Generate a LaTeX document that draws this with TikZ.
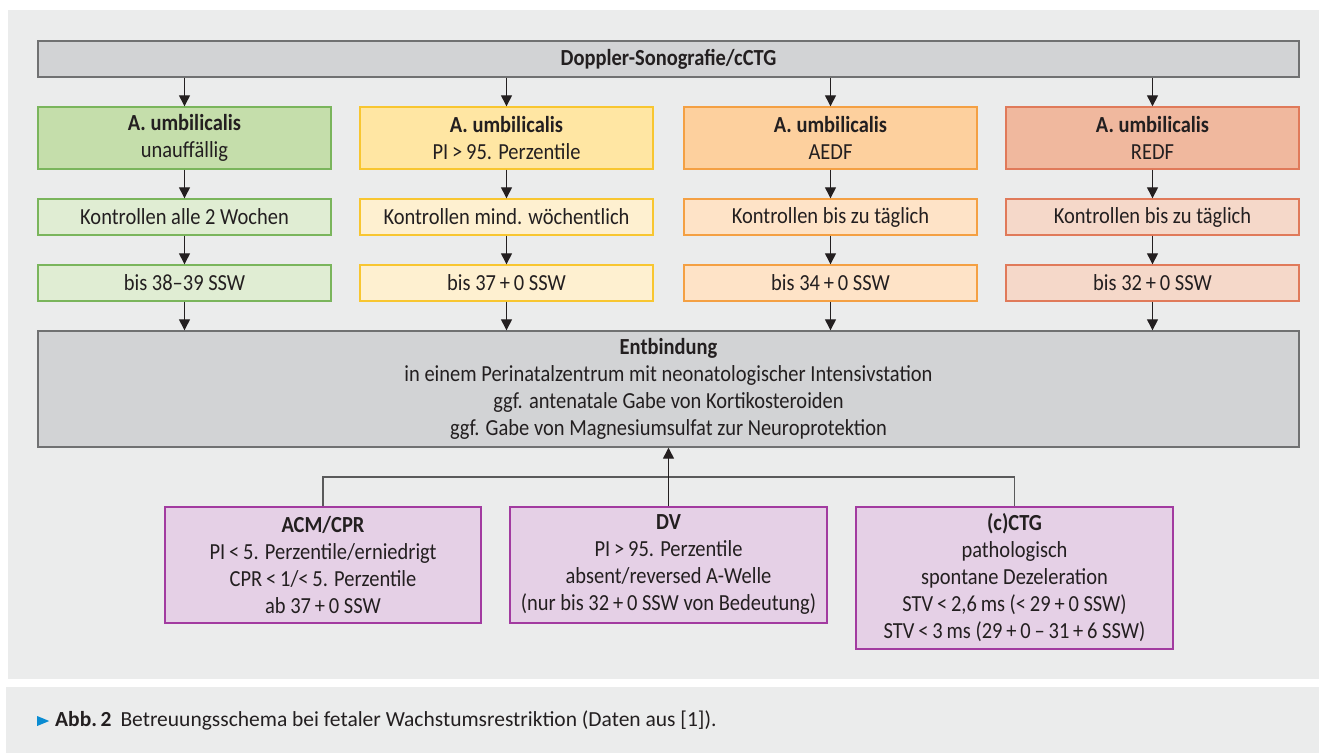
\documentclass[tikz,border=0pt]{standalone}
\usepackage{fontspec}
\setmainfont{Carlito}[FakeStretch=0.89]
\newfontfamily\capfont{Carlito}
\usetikzlibrary{arrows.meta,shapes.geometric}
\definecolor{panelbg}{HTML}{EBECEC}
\definecolor{boxgray}{HTML}{D2D3D5}
\definecolor{bordgray}{HTML}{707172}
\definecolor{gdark}{HTML}{C5DEAB}
\definecolor{glight}{HTML}{E0EDD3}
\definecolor{gbord}{HTML}{7AB55C}
\definecolor{ydark}{HTML}{FFE6A3}
\definecolor{ylight}{HTML}{FEF0D0}
\definecolor{ybord}{HTML}{F8C630}
\definecolor{odark}{HTML}{FDD09E}
\definecolor{olight}{HTML}{FEE3C7}
\definecolor{obord}{HTML}{F4A043}
\definecolor{rdark}{HTML}{F0B89E}
\definecolor{rlight}{HTML}{F5D8C9}
\definecolor{rbord}{HTML}{E07A5A}
\definecolor{pfill}{HTML}{E5D0E6}
\definecolor{pbord}{HTML}{A23BA0}
\definecolor{arrcol}{HTML}{231F20}
\definecolor{capblue}{HTML}{0A8CD2}
\tikzset{
  every node/.style={font=\fontsize{23}{27}\selectfont, text=arrcol},
  box/.style={draw, line width=1.4pt, align=center, inner sep=0pt, minimum width=293pt},
  widebox/.style={box, fill=boxgray, draw=bordgray, minimum width=1261pt},
  pbox/.style={box, fill=pfill, draw=pbord, minimum width=316pt},
  arr/.style={-{Triangle[width=11pt,length=11pt]}, line width=1.3pt, draw=arrcol},
  conn/.style={line width=1.3pt, draw=bordgray!80!black}
}
\begin{document}
\begin{tikzpicture}[x=1pt,y=-1pt]
\useasboundingbox (0,0) rectangle (1319,753);
\fill[white] (0,0) rectangle (1319,753);
\fill[panelbg] (8,10) rectangle (1319,679);
\fill[panelbg] (6,687) rectangle (1319,753);

\node[widebox, minimum height=36pt] (top) at (668.5,59) {\textbf{Doppler-Sonografie/cCTG}};

\node[box, fill=gdark, draw=gbord, minimum height=62pt] (g1) at (184.5,138) {\textbf{A. umbilicalis}\\unauffällig};
\node[box, fill=ydark, draw=ybord, minimum height=62pt] (y1) at (506.5,138) {\textbf{A. umbilicalis}\\PI\,>\,95. Perzentile};
\node[box, fill=odark, draw=obord, minimum height=62pt] (o1) at (830.5,138) {\textbf{A. umbilicalis}\\AEDF};
\node[box, fill=rdark, draw=rbord, minimum height=62pt] (r1) at (1152.5,138) {\textbf{A. umbilicalis}\\REDF};

\node[box, fill=glight, draw=gbord, minimum height=36pt] (g2) at (184.5,217) {Kontrollen alle 2 Wochen};
\node[box, fill=ylight, draw=ybord, minimum height=36pt] (y2) at (506.5,217) {Kontrollen mind. wöchentlich};
\node[box, fill=olight, draw=obord, minimum height=36pt] (o2) at (830.5,217) {Kontrollen bis zu täglich};
\node[box, fill=rlight, draw=rbord, minimum height=36pt] (r2) at (1152.5,217) {Kontrollen bis zu täglich};

\node[box, fill=glight, draw=gbord, minimum height=36pt] (g3) at (184.5,283) {bis 38–39 SSW};
\node[box, fill=ylight, draw=ybord, minimum height=36pt] (y3) at (506.5,283) {bis 37\,+\,0 SSW};
\node[box, fill=olight, draw=obord, minimum height=36pt] (o3) at (830.5,283) {bis 34\,+\,0 SSW};
\node[box, fill=rlight, draw=rbord, minimum height=36pt] (r3) at (1152.5,283) {bis 32\,+\,0 SSW};

\node[widebox, minimum height=116pt] (ent) at (668.5,389) {\textbf{Entbindung}\\in einem Perinatalzentrum mit neonatologischer Intensivstation\\ggf. antenatale Gabe von Kortikosteroiden\\ggf. Gabe von Magnesiumsulfat zur Neuroprotektion};

\node[pbox, minimum height=116pt] (acm) at (323,565) {\textbf{ACM/CPR}\\PI\,<\,5. Perzentile/erniedrigt\\CPR\,<\,1/<\,5. Perzentile\\ab 37\,+\,0 SSW};
\node[pbox, minimum height=116pt, minimum width=317pt] (dv) at (668.5,565) {\textbf{DV}\\PI\,>\,95. Perzentile\\absent/reversed A-Welle\\(nur bis 32\,+\,0 SSW von Bedeutung)};
\node[pbox, minimum height=142pt, minimum width=317pt] (ctg) at (1014.5,578) {\textbf{(c)CTG}\\pathologisch\\spontane Dezeleration\\STV\,<\,2,6\,ms (<\,29\,+\,0 SSW)\\STV\,<\,3\,ms (29\,+\,0\,–\,31\,+\,6 SSW)};

\foreach \c in {g,y,o,r}{
  \draw[arr] (\c1.north |- top.south) -- (\c1.north);
  \draw[arr] (\c1.south) -- (\c2.north);
  \draw[arr] (\c2.south) -- (\c3.north);
  \draw[arr] (\c3.south) -- (\c3.south |- ent.north);
}
\coordinate (hl) at (323,477);
\draw[conn] (acm.north) -- (hl) -| (ctg.north);
\draw[arr] (dv.north) -- (dv.north |- ent.south);

\node[fill=capblue, isosceles triangle, inner sep=0pt, minimum height=7pt, minimum width=10pt] (tri) at (40.5,721) {};
\node[anchor=west, inner sep=0pt, font=\capfont\fontsize{21.5}{24}\selectfont] (cap) at (55,720) {\textbf{Abb.\,2}\hspace{9pt}Betreuungsschema bei fetaler Wachstumsrestriktion (Daten aus [1]).};
\end{tikzpicture}
\end{document}
